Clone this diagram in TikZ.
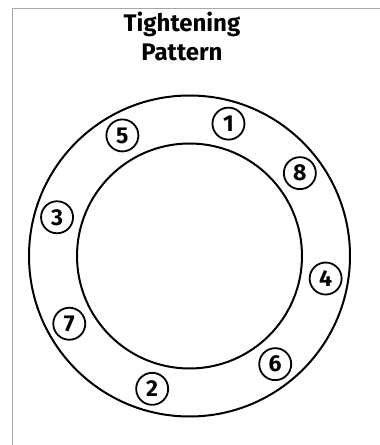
\documentclass[tikz,border=0pt]{standalone}
\usepackage{fontspec}
\setmainfont{Fira Sans}
\begin{document}
\begin{tikzpicture}[
			x=1pt,y=1pt,
			ring/.style={draw,line width=2pt},
			frame/.style={draw=black!35,line width=1pt},
			bolt/.style={draw,circle,line width=1.8pt,minimum size=32pt,inner sep=0pt,font=\fontsize{23}{23}\selectfont\bfseries},
			title/.style={align=center,font=\fontsize{24}{29}\selectfont\bfseries}
		]
			\useasboundingbox (0,0) rectangle (380,445);
			\draw[frame] (12.5,0) -- (12.5,436.5) -- (380,436.5);
			\node[title,anchor=north] (title) at (182,436) {Tightening\\Pattern};
			\coordinate (c) at (189.5,189);
			\draw[ring] (c) circle (160.5);
			\draw[ring] (c) circle (112.5);
			\foreach \n/\a in {1/73.6,8/36.9,4/-9.4,6/-51.6,2/-105.7,7/-150.6,3/163.7,5/119.1}
				\node[bolt] (b\n) at ([shift={(\a:138)}]c) {\n};
		\end{tikzpicture}
\end{document}
